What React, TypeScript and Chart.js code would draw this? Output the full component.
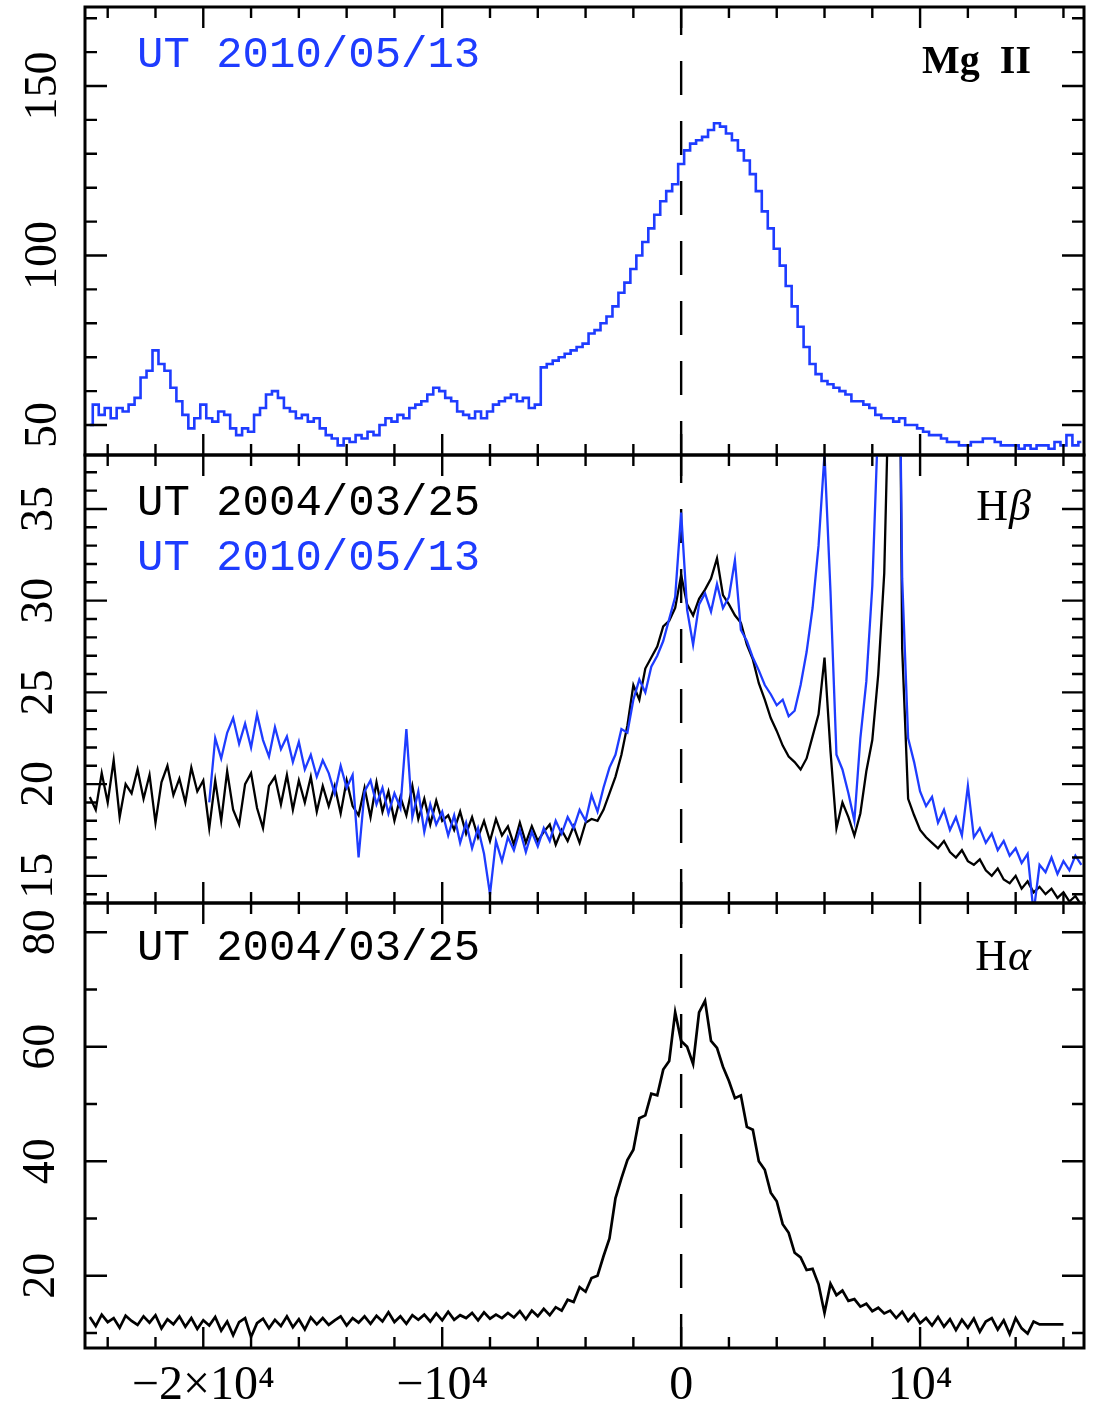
import { useEffect, useRef } from 'react';
import { Chart, registerables } from 'chart.js';

Chart.register(...registerables);

// ---------------- data ----------------
const VELOCITY = [
  -24750, -24500, -24250, -24000, -23750, -23500, -23250, -23000, -22750, -22500,
  -22250, -22000, -21750, -21500, -21250, -21000, -20750, -20500, -20250, -20000,
  -19750, -19500, -19250, -19000, -18750, -18500, -18250, -18000, -17750, -17500,
  -17250, -17000, -16750, -16500, -16250, -16000, -15750, -15500, -15250, -15000,
  -14750, -14500, -14250, -14000, -13750, -13500, -13250, -13000, -12750, -12500,
  -12250, -12000, -11750, -11500, -11250, -11000, -10750, -10500, -10250, -10000,
  -9750, -9500, -9250, -9000, -8750, -8500, -8250, -8000, -7750, -7500,
  -7250, -7000, -6750, -6500, -6250, -6000, -5750, -5500, -5250, -5000,
  -4750, -4500, -4250, -4000, -3750, -3500, -3250, -3000, -2750, -2500,
  -2250, -2000, -1750, -1500, -1250, -1000, -750, -500, -250, 0,
  250, 500, 750, 1000, 1250, 1500, 1750, 2000, 2250, 2500,
  2750, 3000, 3250, 3500, 3750, 4000, 4250, 4500, 4750, 5000,
  5250, 5500, 5750, 6000, 6250, 6500, 6750, 7000, 7250, 7500,
  7750, 8000, 8250, 8500, 8750, 9000, 9250, 9500, 9750, 10000,
  10250, 10500, 10750, 11000, 11250, 11500, 11750, 12000, 12250, 12500,
  12750, 13000, 13250, 13500, 13750, 14000, 14250, 14500, 14750, 15000,
  15250, 15500, 15750, 16000, 16250, 16500, 16750,
];

const MGII_2010 = [
  50, 56, 53, 55, 52, 55, 54, 56, 58, 64,
  66, 72, 68, 66, 61, 57, 53, 49, 52, 56,
  52, 51, 54, 53, 49, 47, 49, 48, 53, 55,
  59, 60, 58, 55, 54, 52, 53, 51, 52, 49,
  47, 46, 44, 46, 45, 47, 46, 48, 47, 50,
  52, 51, 53, 52, 55, 56, 57, 59, 61, 60,
  58, 57, 54, 53, 52, 54, 52, 54, 56, 57,
  58, 59, 57, 58, 55, 56, 67, 68, 69, 70,
  71, 72, 73, 74, 77, 78, 80, 82, 85, 89,
  92, 96, 100, 104, 108, 112, 116, 119, 121, 127,
  131, 133, 134, 135, 137, 139, 138, 136, 134, 131,
  128, 124, 119, 113, 108, 102, 97, 91, 85, 79,
  73, 68, 65, 63, 62, 61, 60, 59, 57, 57,
  56, 55, 53, 52, 52, 51, 52, 50, 50, 49,
  48, 47, 47, 46, 45, 45, 44, 44, 45, 45,
  46, 46, 45, 44, 44, 44, 43, 44, 43, 44,
  44, 43, 45, 44, 47, 44, 45,
];

const HBETA_2004 = [
  19.3, 18.6, 20.6, 19.0, 21.3, 18.2, 20.0, 19.5, 20.8, 19.2,
  20.5, 17.9, 20.1, 21.0, 19.4, 20.3, 19.0, 20.9, 19.6, 20.2,
  17.6, 20.2, 18.0, 20.7, 18.6, 17.8, 20.0, 20.6, 18.7, 17.6,
  19.9, 20.4, 18.9, 20.5, 18.6, 20.2, 19.0, 20.4, 18.5, 19.9,
  18.8, 19.9, 18.4, 20.2, 18.8, 18.3, 19.8, 18.2, 20.1, 18.5,
  19.6, 18.0, 19.3, 18.3, 19.9, 18.1, 19.2, 17.8, 19.1, 18.0,
  18.3, 17.5, 18.5, 17.3, 18.2, 17.1, 18.0, 16.9, 18.1, 17.2,
  17.7, 16.7, 17.9, 16.8, 17.7, 16.9, 17.4, 17.8, 16.7, 17.5,
  16.9, 17.7, 16.8, 17.9, 18.1, 18.0, 18.6, 19.5, 20.4, 21.6,
  23.2, 25.4, 24.6, 26.3, 26.9, 27.5, 28.6, 28.9, 29.6, 31.4,
  29.8, 29.2, 30.1, 30.6, 31.2, 32.3, 30.3, 29.8, 29.2, 28.8,
  27.6, 26.8, 25.5, 24.6, 23.6, 22.9, 22.1, 21.5, 21.2, 20.8,
  21.4, 22.6, 23.8, 26.9, 21.8, 17.6, 19.0, 18.2, 17.2, 18.4,
  20.7, 22.4, 26.0, 31.5, 45.0, 70.0, 27.4, 19.2, 18.3, 17.5,
  17.1, 16.8, 16.5, 16.9, 16.3, 16.0, 16.4, 15.8, 15.6, 15.9,
  15.3, 15.0, 15.4, 14.8, 14.6, 15.0, 14.3, 14.7, 14.1, 14.4,
  14.0, 14.3, 13.8, 14.1, 13.6, 13.9, 13.4,
];

const HBETA_2010 = [
  null, null, null, null, null, null, null, null, null, null,
  null, null, null, null, null, null, null, null, null, null,
  19.0, 22.5, 21.4, 22.8, 23.6, 22.2, 23.3, 22.0, 23.8, 22.4,
  21.5, 23.1, 21.9, 22.6, 21.2, 22.3, 20.8, 21.6, 20.4, 21.3,
  20.6, 19.5, 21.0, 19.8, 20.5, 16.0, 19.6, 20.2, 18.9, 19.8,
  18.4, 19.5, 18.7, 23.0, 18.2, 19.6, 17.4, 18.9, 17.8, 18.5,
  17.2, 18.3, 16.8, 17.9, 16.5, 17.6, 16.2, 14.0, 16.9, 15.8,
  17.1, 16.4, 17.5, 16.3, 17.4, 16.6, 17.6, 16.9, 18.0, 17.3,
  18.2, 17.6, 18.6, 18.0, 19.4, 18.5, 19.8, 20.9, 21.6, 23.0,
  22.8, 24.6, 25.7, 25.0, 26.4, 27.0, 27.8, 29.0, 30.2, 34.8,
  29.5, 27.6, 29.8, 30.4, 29.4, 30.9, 29.6, 30.2, 32.2, 28.4,
  27.8, 26.9, 26.2, 25.4, 24.9, 24.3, 24.6, 23.7, 24.0, 25.4,
  27.2, 29.6, 33.0, 38.0, 30.5, 21.6, 20.8, 19.5, 18.0, 22.5,
  25.6, 30.8, 40.0, 60.0, 80.0, 60.0, 31.2, 22.5, 21.2, 19.6,
  18.8, 19.3, 17.9, 18.6, 17.5, 18.2, 17.2, 19.9, 17.1, 17.6,
  16.8, 17.3, 16.4, 16.9, 16.1, 16.5, 15.7, 16.2, 13.0, 15.6,
  15.2, 16.0, 15.1, 15.8, 15.3, 16.1, 15.6,
];

const HALPHA_2004 = [
  12.8, 11.2, 13.2, 11.9, 12.6, 10.9, 13.0, 12.1, 11.4, 12.9,
  11.8, 13.1, 10.8, 12.4, 11.5, 12.9, 11.1, 12.6, 10.7, 12.2,
  11.3, 12.8, 10.4, 12.0, 9.6, 11.9, 12.6, 9.3, 11.7, 12.5,
  10.8, 12.3, 11.2, 12.9, 11.0, 12.4, 10.6, 12.7, 11.5, 12.6,
  11.4, 12.2, 12.9, 11.3, 12.6, 11.8, 12.9, 11.6, 13.0, 12.0,
  13.6, 11.9, 12.9, 11.6, 13.1, 12.3, 13.2, 12.0, 13.4, 12.2,
  13.7, 12.3, 13.1, 12.6, 13.5, 12.2, 13.6, 12.5, 13.2, 12.6,
  13.5, 12.7, 13.8, 12.4, 13.9, 12.9, 14.2, 13.1, 14.5, 13.9,
  15.8, 15.4, 18.0, 17.2, 19.6, 20.0, 23.4, 26.5, 33.5, 37.0,
  40.2, 42.0, 47.5, 48.0, 51.8, 51.5, 56.0, 57.5, 66.0, 61.0,
  60.0, 57.0, 66.0, 68.0, 61.0, 59.8, 56.5, 54.0, 51.0, 51.5,
  46.0, 45.5, 40.0, 38.5, 34.5, 33.0, 29.0, 27.5, 24.0, 23.2,
  21.0, 21.2, 18.5, 13.5, 18.6, 16.6, 17.4, 15.6, 15.9, 14.6,
  15.1, 13.8, 14.4, 13.4, 13.9, 12.6, 13.7, 12.1, 13.3, 11.7,
  12.6, 11.3, 12.8, 11.1, 12.4, 10.5, 12.3, 10.9, 12.5, 10.2,
  12.0, 12.6, 10.6, 12.2, 9.8, 12.6, 10.8, 9.9, 12.0, 11.5,
  11.5, 11.5, 11.5, 11.5,
];

const ZERO_VELOCITY = 0;

const X_MIN = -24950;
const X_MAX = 16860;
const X_TICK_VALUES = [-20000, -10000, 0, 10000];
const X_TICK_LABELS = ['\u22122\u00d710\u2074', '\u221210\u2074', '0', '10\u2074'];
const X_MINOR_TICKS = [
  -24000, -22000, -20000, -18000, -16000, -14000, -12000, -10000, -8000, -6000,
  -4000, -2000, 0, 2000, 4000, 6000, 8000, 10000, 12000, 14000, 16000,
];

const MG_Y_RANGE = [41.15, 173.3];
const MG_Y_TICKS = [50, 100, 150];
const MG_Y_MINOR = [50, 60, 70, 80, 90, 100, 110, 120, 130, 140, 150, 160, 170];

const HB_Y_RANGE = [13.52, 37.94];
const HB_Y_TICKS = [15, 20, 25, 30, 35];
const HB_Y_MINOR = [14, 15, 16, 17, 18, 19, 20, 21, 22, 23, 24, 25, 26, 27, 28, 29, 30, 31, 32, 33, 34, 35, 36, 37];

const HA_Y_RANGE = [7.37, 85.1];
const HA_Y_TICKS = [20, 40, 60, 80];
const HA_Y_MINOR = [10, 20, 30, 40, 50, 60, 70, 80];

const DATE_2004 = 'UT 2004/03/25';
const DATE_2010 = 'UT 2010/05/13';

// ---------------- styling / layout ----------------
const W = 1095;
const H = 1417;
const PLOT_LEFT = 85;
const PLOT_RIGHT = 1084;
const BLUE = '#1e3cff';
const BLACK = '#000000';
const SERIF = '"Liberation Serif", "Times New Roman", serif';
const MONO = '"Liberation Mono", "Courier New", monospace';

type Series = { x: number[]; y: (number | null)[]; color: string; width: number; stepped: boolean };
type PanelDef = {
  top: number;
  bottom: number;
  yMin: number;
  yMax: number;
  yTicks: number[];
  yMinor: number[];
  labelPad: number;
  showX: boolean;
  series: Series[];
  dates: { text: string; color: string; baseline: number }[];
  lineMain: string;
  lineGreek: string;
  lineBold: boolean;
  lineBaseline: number;
};

const PANELS: PanelDef[] = [
  {
    top: 7, bottom: 455,
    yMin: MG_Y_RANGE[0], yMax: MG_Y_RANGE[1], yTicks: MG_Y_TICKS, yMinor: MG_Y_MINOR,
    labelPad: 7, showX: false,
    series: [{ x: VELOCITY, y: MGII_2010, color: BLUE, width: 2.6, stepped: true }],
    dates: [{ text: DATE_2010, color: BLUE, baseline: 67 }],
    lineMain: 'Mg  II', lineGreek: '', lineBold: true, lineBaseline: 73,
  },
  {
    top: 455, bottom: 903,
    yMin: HB_Y_RANGE[0], yMax: HB_Y_RANGE[1], yTicks: HB_Y_TICKS, yMinor: HB_Y_MINOR,
    labelPad: 22, showX: false,
    series: [
      { x: VELOCITY, y: HBETA_2010, color: BLUE, width: 2.3, stepped: false },
      { x: VELOCITY, y: HBETA_2004, color: BLACK, width: 2.3, stepped: false },
    ],
    dates: [
      { text: DATE_2004, color: BLACK, baseline: 515 },
      { text: DATE_2010, color: BLUE, baseline: 570 },
    ],
    lineMain: 'H', lineGreek: '\u03b2', lineBold: false, lineBaseline: 520,
  },
  {
    top: 903, bottom: 1348,
    yMin: HA_Y_RANGE[0], yMax: HA_Y_RANGE[1], yTicks: HA_Y_TICKS, yMinor: HA_Y_MINOR,
    labelPad: 20, showX: true,
    series: [{ x: VELOCITY, y: HALPHA_2004, color: BLACK, width: 2.7, stepped: false }],
    dates: [{ text: DATE_2004, color: BLACK, baseline: 960 }],
    lineMain: 'H', lineGreek: '\u03b1', lineBold: false, lineBaseline: 970,
  },
];

function makeDecor(def: PanelDef) {
  return {
    id: 'decor',
    afterDatasetsDraw(chart: any) {
      const { ctx, chartArea: a } = chart;
      const xs = chart.scales.x;
      const ys = chart.scales.y;
      ctx.save();
      ctx.strokeStyle = BLACK;
      ctx.lineWidth = 2.4;
      ctx.beginPath();
      for (const v of X_MINOR_TICKS) {
        const px = xs.getPixelForValue(v);
        const len = X_TICK_VALUES.includes(v) ? 21 : 11;
        ctx.moveTo(px, a.top);
        ctx.lineTo(px, a.top + len);
        ctx.moveTo(px, a.bottom);
        ctx.lineTo(px, a.bottom - len);
      }
      for (const v of def.yMinor) {
        const py = ys.getPixelForValue(v);
        const len = def.yTicks.includes(v) ? 22 : 12;
        ctx.moveTo(a.left, py);
        ctx.lineTo(a.left + len, py);
        ctx.moveTo(a.right, py);
        ctx.lineTo(a.right - len, py);
      }
      ctx.stroke();
      ctx.lineWidth = 3;
      ctx.strokeRect(a.left, a.top, a.right - a.left, a.bottom - a.top);

      ctx.textBaseline = 'alphabetic';
      ctx.textAlign = 'left';
      ctx.font = '44px ' + MONO;
      for (const d of def.dates) {
        ctx.fillStyle = d.color;
        ctx.fillText(d.text, 137, d.baseline);
      }
      ctx.fillStyle = BLACK;
      const right = 1031;
      let wg = 0;
      if (def.lineGreek) {
        ctx.font = 'italic 44px ' + SERIF;
        wg = ctx.measureText(def.lineGreek).width;
        ctx.fillText(def.lineGreek, right - wg, def.lineBaseline);
      }
      ctx.font = (def.lineBold ? 'bold 40px ' : '44px ') + SERIF;
      const wm = ctx.measureText(def.lineMain).width;
      ctx.fillText(def.lineMain, right - wg - wm - (def.lineGreek ? 1 : 0), def.lineBaseline);
      ctx.restore();
    },
  };
}

function makeChart(canvas: HTMLCanvasElement, def: PanelDef) {
  const datasets: any[] = def.series.map((s) => ({
    data: s.y.map((y, i) => ({ x: s.x[i], y })),
    borderColor: s.color,
    backgroundColor: s.color,
    borderWidth: s.width,
    borderJoinStyle: 'miter',
    pointRadius: 0,
    stepped: s.stepped ? 'middle' : false,
    tension: 0,
    fill: false,
    spanGaps: false,
  }));
  datasets.push({
    data: [
      { x: ZERO_VELOCITY, y: def.yMin },
      { x: ZERO_VELOCITY, y: def.yMax },
    ],
    borderColor: BLACK,
    borderWidth: 2.4,
    borderDash: [34, 26],
    pointRadius: 0,
    fill: false,
  });

  return new Chart(canvas, {
    type: 'line',
    data: { datasets },
    options: {
      responsive: false,
      animation: false,
      devicePixelRatio: 1,
      layout: {
        padding: {
          left: 0,
          right: W - PLOT_RIGHT,
          top: def.top,
          bottom: def.showX ? 0 : H - def.bottom,
        },
      },
      plugins: { legend: { display: false }, tooltip: { enabled: false } },
      scales: {
        x: {
          type: 'linear',
          min: X_MIN,
          max: X_MAX,
          display: def.showX,
          grid: { display: false, drawTicks: false },
          border: { display: false },
          afterBuildTicks: (s: any) => {
            s.ticks = X_TICK_VALUES.map((v) => ({ value: v }));
          },
          afterFit: (s: any) => {
            s.height = def.showX ? H - def.bottom : 0;
            s.paddingLeft = 0;
            s.paddingRight = 0;
          },
          ticks: {
            autoSkip: false,
            maxRotation: 0,
            minRotation: 0,
            padding: 10,
            color: BLACK,
            font: { family: SERIF, size: 48 },
            callback: (v: any) => {
              const k = X_TICK_VALUES.indexOf(Number(v));
              return k >= 0 ? X_TICK_LABELS[k] : '';
            },
          },
        },
        y: {
          type: 'linear',
          min: def.yMin,
          max: def.yMax,
          grid: { display: false, drawTicks: false },
          border: { display: false },
          afterBuildTicks: (s: any) => {
            s.ticks = def.yTicks.map((v) => ({ value: v }));
          },
          afterFit: (s: any) => {
            s.width = PLOT_LEFT;
            s.paddingTop = 0;
            s.paddingBottom = 0;
          },
          ticks: {
            autoSkip: false,
            minRotation: 90,
            maxRotation: 90,
            crossAlign: 'center',
            padding: def.labelPad,
            color: BLACK,
            font: { family: SERIF, size: 46 },
            callback: (v: any) => String(v),
          },
        },
      },
    } as any,
    plugins: [makeDecor(def)],
  });
}

export default function App() {
  const canvases = useRef<(HTMLCanvasElement | null)[]>([]);
  useEffect(() => {
    const charts = PANELS.map((def, k) => makeChart(canvases.current[k] as HTMLCanvasElement, def));
    return () => charts.forEach((c) => c.destroy());
  }, []);
  return (
    <div style={{ position: 'absolute', left: 0, top: 0, width: W, height: H, background: '#fff' }}>
      {PANELS.map((_, k) => (
        <canvas
          key={k}
          ref={(el) => {
            canvases.current[k] = el;
          }}
          width={W}
          height={H}
          style={{ position: 'absolute', left: 0, top: 0, width: W, height: H }}
        />
      ))}
    </div>
  );
}
